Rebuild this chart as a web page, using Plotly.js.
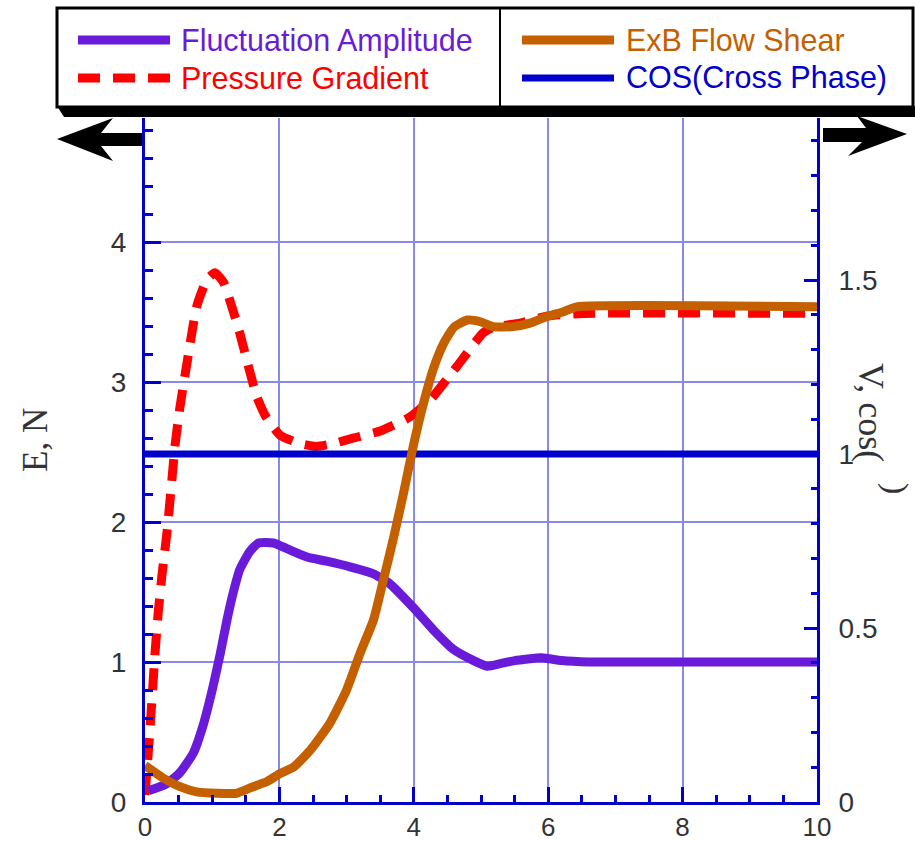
<!DOCTYPE html>
<html>
<head>
<meta charset="utf-8">
<script src="https://cdn.plot.ly/plotly-3.0.1.min.js"></script>
<style>html,body{margin:0;padding:0;background:#fff;}#chart{width:915px;height:841px;}</style>
</head>
<body>
<div id="chart"></div>
<script>
// ---- data ----
const fluctX = [0.05, 0.32, 0.52, 0.72, 0.86, 1.01, 1.12, 1.22, 1.31, 1.41, 1.56, 1.69, 1.91, 2.11, 2.41, 2.70, 3.05, 3.40, 3.64, 3.99, 4.29, 4.59, 4.89, 5.09, 5.30, 5.50, 5.90, 6.20, 6.60, 10];
const fluctY = [0.08, 0.13, 0.21, 0.35, 0.54, 0.82, 1.06, 1.30, 1.49, 1.66, 1.79, 1.85, 1.85, 1.81, 1.75, 1.72, 1.68, 1.63, 1.56, 1.39, 1.23, 1.09, 1.01, 0.97, 0.99, 1.01, 1.03, 1.01, 1.00, 1.00];

const pressX = [0, 0.07, 0.15, 0.20, 0.25, 0.33, 0.40, 0.45, 0.52, 0.64, 0.77, 0.92, 1.04, 1.17, 1.31, 1.41, 1.54, 1.66, 1.79, 2.01, 2.31, 2.55, 2.80, 3.10, 3.50, 3.94, 4.24, 4.64, 5.03, 5.18, 5.58, 5.98, 6.52, 10];
const pressY = [0.05, 0.49, 1.07, 1.37, 1.61, 1.94, 2.30, 2.56, 2.82, 3.18, 3.54, 3.73, 3.78, 3.71, 3.51, 3.35, 3.11, 2.90, 2.76, 2.62, 2.56, 2.54, 2.56, 2.60, 2.65, 2.75, 2.87, 3.11, 3.35, 3.39, 3.42, 3.47, 3.49, 3.49];

const shearX = [0, 0.27, 0.52, 0.77, 1.07, 1.36, 1.61, 1.81, 2.01, 2.21, 2.46, 2.75, 3.00, 3.20, 3.40, 3.55, 3.70, 3.85, 4.00, 4.15, 4.30, 4.45, 4.60, 4.80, 4.99, 5.18, 5.48, 5.73, 5.98, 6.23, 6.42, 10];
const shearY = [0.105, 0.069, 0.044, 0.029, 0.025, 0.025, 0.044, 0.058, 0.082, 0.100, 0.149, 0.226, 0.322, 0.427, 0.523, 0.640, 0.760, 0.890, 1.030, 1.150, 1.250, 1.320, 1.365, 1.385, 1.380, 1.366, 1.366, 1.376, 1.395, 1.409, 1.423, 1.423];

const cosX = [0, 10];
const cosY = [1.0, 1.0];

const seriesNames = ["Fluctuation Amplitude", "Pressure Gradient", "ExB Flow Shear", "COS(Cross Phase)"];
const leftTitle = "E, N";
const rightTitle = "V, cos(";

// ---- styling ----
const PURPLE = '#6a1bd9', RED = '#ff0000', ORANGE = '#c56000', BLUE = '#0000cc', GRID = '#8888ee';
const L = 145, R = 817, T = 118, B = 802;
const px = x => (x - L) / (R - L);
const py = y => (B - y) / (B - T);
const leftMax = (B - T) / 140;
const rightMax = (B - T) / 348;
const tickFont = {family: 'Liberation Sans, Arial, sans-serif', size: 28, color: '#333'};
const xTickFont = {family: 'Liberation Sans, Arial, sans-serif', size: 26, color: '#333'};

const traces = [
  {x: pressX, y: pressY, mode: 'lines', name: seriesNames[1], yaxis: 'y',
   line: {color: RED, width: 9, dash: '22px,13px', shape: 'spline', smoothing: 0.5}},
  {x: fluctX, y: fluctY, mode: 'lines', name: seriesNames[0], yaxis: 'y',
   line: {color: PURPLE, width: 9, shape: 'spline', smoothing: 0.5}},
  {x: cosX, y: cosY, mode: 'lines', name: seriesNames[3], yaxis: 'y2',
   line: {color: BLUE, width: 7}},
  {x: shearX, y: shearY, mode: 'lines', name: seriesNames[2], yaxis: 'y2',
   line: {color: ORANGE, width: 9, shape: 'spline', smoothing: 0.5}}
];

function poly(pts) {
  return 'M ' + pts.map(p => px(p[0]) + ',' + py(p[1])).join(' L ') + ' Z';
}

const shapes = [
  {type: 'path', xref: 'paper', yref: 'paper', path: poly([[57,106],[915,106],[915,117],[64,117]]), fillcolor: '#000', line: {width: 0}},
  {type: 'rect', xref: 'paper', yref: 'paper', x0: px(57), x1: px(913), y0: py(107), y1: py(8), fillcolor: '#fff', line: {color: '#000', width: 3}},
  {type: 'line', xref: 'paper', yref: 'paper', x0: px(500), x1: px(500), y0: py(107), y1: py(8), line: {color: '#000', width: 2}},
  {type: 'line', xref: 'paper', yref: 'paper', x0: px(78), x1: px(170), y0: py(40), y1: py(40), line: {color: PURPLE, width: 9}},
  {type: 'line', xref: 'paper', yref: 'paper', x0: px(78), x1: px(170), y0: py(78), y1: py(78), line: {color: RED, width: 9, dash: '22px,13px'}},
  {type: 'line', xref: 'paper', yref: 'paper', x0: px(522), x1: px(614), y0: py(40), y1: py(40), line: {color: ORANGE, width: 9}},
  {type: 'line', xref: 'paper', yref: 'paper', x0: px(522), x1: px(614), y0: py(78), y1: py(78), line: {color: BLUE, width: 7}},
  {type: 'path', xref: 'paper', yref: 'paper', path: poly([[57,139],[113,118],[101,133],[142,133],[142,146],[101,146],[113,161]]), fillcolor: '#000', line: {width: 0}},
  {type: 'path', xref: 'paper', yref: 'paper', path: poly([[823,128],[866,128],[857,116],[907,134],[848,156],[862,142],[823,142]]), fillcolor: '#000', line: {width: 0}}
];

const legFont = (c) => ({family: 'Liberation Sans, Arial, sans-serif', size: 30.5, color: c});
const annotations = [
  {xref: 'paper', yref: 'paper', x: px(179), y: py(40), text: seriesNames[0], showarrow: false, xanchor: 'left', yanchor: 'middle', font: legFont(PURPLE)},
  {xref: 'paper', yref: 'paper', x: px(179), y: py(78), text: seriesNames[1], showarrow: false, xanchor: 'left', yanchor: 'middle', font: legFont(RED)},
  {xref: 'paper', yref: 'paper', x: px(624), y: py(40), text: seriesNames[2], showarrow: false, xanchor: 'left', yanchor: 'middle', font: legFont(ORANGE)},
  {xref: 'paper', yref: 'paper', x: px(624), y: py(78), text: seriesNames[3], showarrow: false, xanchor: 'left', yanchor: 'middle', font: legFont(BLUE)},
  {xref: 'paper', yref: 'paper', x: px(36), y: py(440), text: leftTitle, showarrow: false, textangle: -90, xanchor: 'center', yanchor: 'middle',
   font: {family: 'Liberation Serif, Times New Roman, serif', size: 35, color: '#333'}},
  {xref: 'paper', yref: 'paper', x: px(871), y: py(412), text: rightTitle, showarrow: false, textangle: 90, xanchor: 'center', yanchor: 'middle',
   font: {family: 'Liberation Serif, Times New Roman, serif', size: 36, color: '#333'}},
  {xref: 'paper', yref: 'paper', x: px(896), y: py(488), text: ')', showarrow: false, textangle: 90, xanchor: 'center', yanchor: 'middle',
   font: {family: 'Liberation Serif, Times New Roman, serif', size: 34, color: '#333'}}
];

const layout = {
  width: 915, height: 841,
  margin: {l: L, r: 915 - R, t: T, b: 841 - B, pad: 0},
  paper_bgcolor: '#fff', plot_bgcolor: '#fff',
  showlegend: false,
  xaxis: {
    range: [0, 10], tick0: 0, dtick: 2, showline: true, linecolor: BLUE, linewidth: 3,
    ticks: 'inside', ticklen: 15, tickwidth: 3, tickcolor: BLUE,
    showgrid: true, gridcolor: GRID, gridwidth: 2, zeroline: false, tickfont: xTickFont,
    minor: {dtick: 0.5, ticks: 'inside', ticklen: 7, tickwidth: 3, tickcolor: BLUE, showgrid: false}
  },
  yaxis: {
    range: [0, leftMax], tick0: 0, dtick: 1, showline: true, linecolor: BLUE, linewidth: 3,
    ticks: 'inside', ticklen: 16, tickwidth: 3, tickcolor: BLUE, ticklabelstandoff: 10,
    showgrid: true, gridcolor: GRID, gridwidth: 2, zeroline: false, tickfont: tickFont,
    minor: {dtick: 0.2, ticks: 'inside', ticklen: 8, tickwidth: 3, tickcolor: BLUE, showgrid: false}
  },
  yaxis2: {
    overlaying: 'y', side: 'right', range: [0, rightMax], tick0: 0, dtick: 0.5,
    showline: true, linecolor: BLUE, linewidth: 3,
    ticks: 'inside', ticklen: 13, tickwidth: 3, tickcolor: BLUE, ticklabelstandoff: 13,
    showgrid: false, zeroline: false, tickfont: tickFont,
    minor: {dtick: 0.1, ticks: 'inside', ticklen: 6, tickwidth: 3, tickcolor: BLUE, showgrid: false}
  },
  shapes: shapes,
  annotations: annotations
};

Plotly.newPlot('chart', traces, layout, {staticPlot: true, displayModeBar: false});
</script>
</body>
</html>
